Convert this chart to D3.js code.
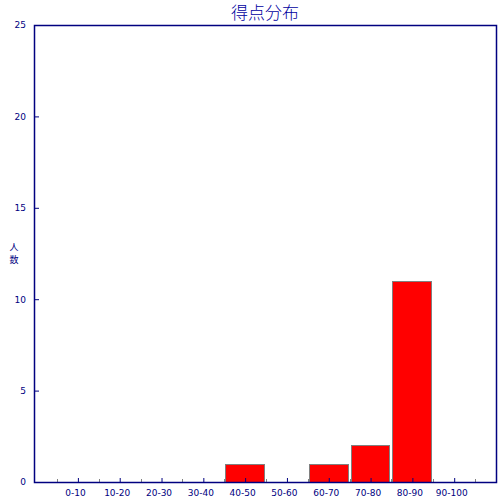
<!DOCTYPE html>
<html>
<head>
<meta charset="utf-8">
<script src="https://cdn.jsdelivr.net/npm/d3@7"></script>
<style>
body{margin:0;background:#fff;}
text{font-family:"DejaVu Sans",sans-serif;}
</style>
</head>
<body>
<div id="chart"></div>
<script>
// data
const categories = ['0-10','10-20','20-30','30-40','40-50','50-60','60-70','70-80','80-90','90-100'];
const counts = [0,0,0,0,1,0,1,2,11,0];
const yTicks = [0,5,10,15,20,25];
const title = '得点分布';
const yLabel = '人数';

const width = 500, height = 500;
const margin = {t:25,r:4,b:18,l:34};
const w = width - margin.l - margin.r;
const h = height - margin.t - margin.b;
const navy = '#000080';

const svg = d3.select('#chart').append('svg')
	.attr('width',width)
	.attr('height',height);
const plot = svg.append('g')
	.attr('transform',`translate(${margin.l},${margin.t})`);

//scales
const scaleX = d3.scaleLinear().domain([-0.55,10.5]).range([0,w]);
const scaleY = d3.scaleLinear().domain([0,25]).range([h,0]);

//bars
plot.selectAll('.bar')
	.data(counts.map((v,i) => ({i:i, v:v})).filter(d => d.v > 0))
	.enter()
	.append('rect')
	.attr('class','bar')
	.attr('x', d => Math.round(scaleX(d.i)) + 1.5)
	.attr('width', d => Math.round(scaleX(d.i+1)) - Math.round(scaleX(d.i)) - 3)
	.attr('y', d => Math.round(scaleY(d.v)) + 0.5)
	.attr('height', d => Math.round(h - scaleY(d.v)))
	.style('fill','#ff0000')
	.style('stroke','#808080')
	.style('stroke-width',1);

//minor x ticks at bin edges
plot.selectAll('.xminor')
	.data(d3.range(0,categories.length+1))
	.enter()
	.append('line')
	.attr('x1', d => Math.round(scaleX(d)) + 0.5)
	.attr('x2', d => Math.round(scaleX(d)) + 0.5)
	.attr('y1', h)
	.attr('y2', h - 3)
	.style('stroke','#808080');

//major x ticks + labels at centers
const axisX = d3.axisBottom(scaleX)
	.tickValues(categories.map((c,i) => i + 0.5))
	.tickFormat((d,i) => categories[i])
	.tickSize(-4)
	.tickPadding(8);
const gx = plot.append('g')
	.attr('transform',`translate(0,${h})`)
	.call(axisX);
gx.select('.domain').remove();
gx.selectAll('line').style('stroke',navy);
gx.selectAll('text')
	.attr('dx',-3)
	.style('fill',navy)
	.style('font-size','9px');

//y axis
const axisY = d3.axisLeft(scaleY)
	.tickValues(yTicks)
	.tickSize(-5)
	.tickPadding(8);
const gy = plot.append('g').call(axisY);
gy.select('.domain').remove();
gy.selectAll('line').style('stroke',navy);
gy.selectAll('text').style('fill',navy).style('font-size','9px');

//frame
plot.append('rect')
	.attr('x',0.5).attr('y',0.5)
	.attr('width',w).attr('height',h)
	.style('fill','none')
	.style('stroke',navy)
	.style('stroke-width',1.5);

//title
svg.append('text')
	.attr('x', margin.l + w/2)
	.attr('y', 19)
	.attr('text-anchor','middle')
	.style('font-family','"Noto Sans CJK JP",sans-serif')
	.style('font-weight',300)
	.style('font-size','17px')
	.style('fill','#0000a0')
	.text(title);

//y label, one character per line
svg.selectAll('.ylab')
	.data(yLabel.split(''))
	.enter()
	.append('text')
	.attr('class','ylab')
	.attr('x',14)
	.attr('y',(d,i) => 250 + i*13)
	.attr('text-anchor','middle')
	.style('font-family','"Noto Sans CJK JP",sans-serif')
	.style('font-size','9px')
	.style('fill',navy)
	.text(d => d);
</script>
</body>
</html>
